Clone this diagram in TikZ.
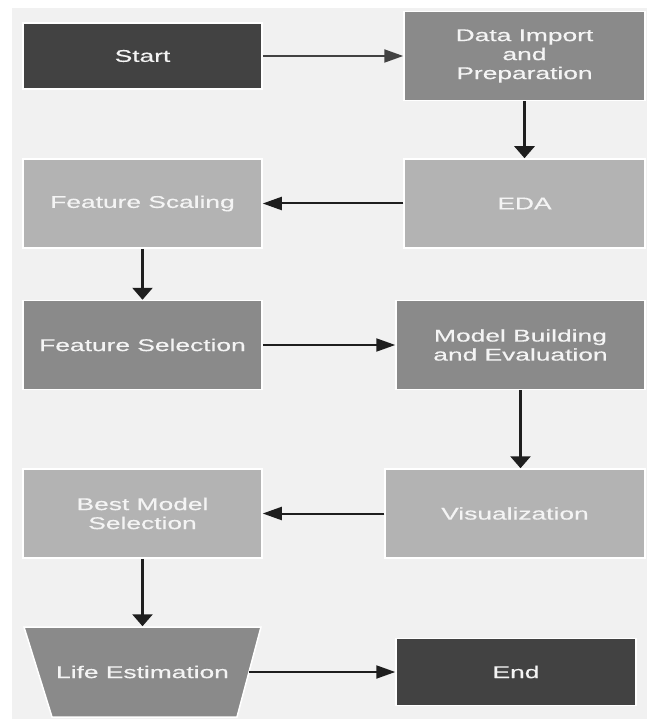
\documentclass[tikz,border=0pt]{standalone}
\usepackage{fontspec}
\setmainfont[FakeStretch=1.55, FakeBold=0.5]{Liberation Sans}
\usetikzlibrary{arrows.meta}
\definecolor{fond}{HTML}{F1F1F1}
\definecolor{fonce}{HTML}{424242}
\definecolor{moyen}{HTML}{8A8A8A}
\definecolor{clair}{HTML}{B3B3B3}
\definecolor{trait}{HTML}{1E1E1E}
\definecolor{texte}{HTML}{F4F4F4}

\begin{document}
\begin{tikzpicture}[x=1pt, y=-1pt]
\tikzset{boite/.style={draw=white, line width=1.5pt, text=texte, minimum width=239pt, minimum height=89pt, inner sep=0pt, align=center, font=\fontsize{17}{19}\selectfont}}
\tikzset{entonnoir/.style={fill=moyen, draw=white, line width=1.5pt, line join=miter}}
\tikzset{flecheh/.style={draw=trait, line width=2pt, -{Triangle[length=19pt, width=13pt]}}}
\tikzset{flechev/.style={draw=trait, line width=2.8pt, -{Triangle[length=12pt, width=20pt]}}}
\useasboundingbox (0,0) rectangle (647,719);
\fill[fond] (12,8) rectangle (647,719);
\node[boite, fill=fonce, minimum height=66pt] (Start) at (142.5,56) {Start};
\node[boite, fill=moyen, minimum width=241pt] (Import) at (524.5,56) {Data Import\\and\\Preparation};
\node[boite, fill=clair, minimum width=241pt] (EDA) at (524.5,203.5) {EDA};
\node[boite, fill=clair] (Scaling) at (142.5,203.5) {Feature Scaling};
\node[boite, fill=moyen] (Selection) at (142.5,345) {Feature Selection};
\node[boite, fill=moyen, minimum width=249pt] (Model) at (520.5,345) {Model Building\\and Evaluation};
\node[boite, fill=clair, minimum width=260pt] (Visu) at (515,513.5) {Visualization};
\node[boite, fill=clair] (Best) at (142.5,513.5) {Best Model\\Selection};
\filldraw[entonnoir] (24,627) -- (261,627) -- (237,717) -- (52,717) -- cycle;
\node[boite, draw=none, minimum width=211pt, minimum height=90pt] (Life) at (142.5,672) {Life Estimation};
\node[boite, fill=fonce, minimum width=240pt, minimum height=67pt] (End) at (516,672) {End};
\draw[flecheh, draw=fonce] (Start) -- (Import);
\draw[flechev] (Import) -- (EDA);
\draw[flecheh] (EDA) -- (Scaling);
\draw[flechev] (Scaling) -- (Selection);
\draw[flecheh] (Selection) -- (Model);
\draw[flechev] (Model.south) -- (Model.south |- Visu.north);
\draw[flecheh] (Visu) -- (Best);
\draw[flechev] (Best) -- (Life);
\draw[flecheh] (Life) -- (End);
\end{tikzpicture}
\end{document}
